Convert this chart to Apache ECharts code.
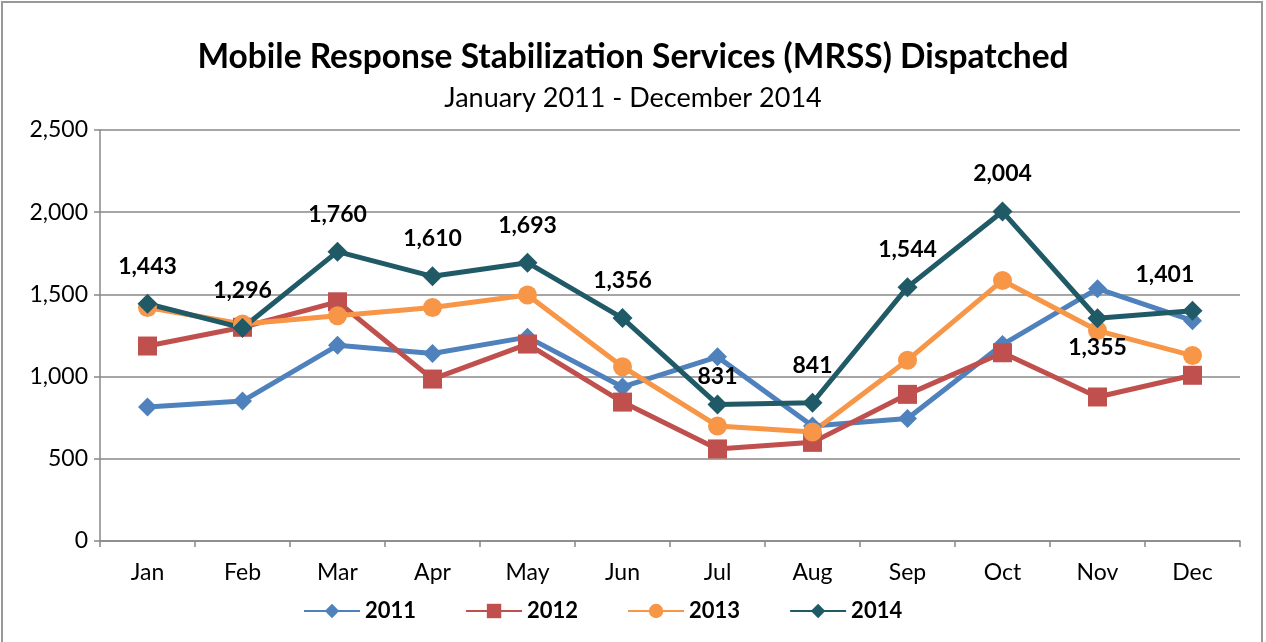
<!DOCTYPE html>
<html>
<head>
<meta charset="utf-8">
<script src="https://cdn.jsdelivr.net/npm/echarts@6/dist/echarts.min.js"></script>
<style>
  html, body { margin: 0; padding: 0; background: #fff; }
  #main { width: 1266px; height: 642px; }
</style>
</head>
<body>
<div id="main"></div>
<script>
var months = ['Jan', 'Feb', 'Mar', 'Apr', 'May', 'Jun', 'Jul', 'Aug', 'Sep', 'Oct', 'Nov', 'Dec'];
var y2011 = [815, 851, 1190, 1140, 1240, 937, 1120, 700, 745, 1195, 1535, 1340];
var y2012 = [1186, 1300, 1455, 985, 1198, 845, 560, 600, 892, 1145, 876, 1008];
var y2013 = [1420, 1320, 1370, 1420, 1496, 1060, 700, 663, 1100, 1585, 1280, 1128];
var y2014 = [1443, 1296, 1760, 1610, 1693, 1356, 831, 841, 1544, 2004, 1355, 1401];
var yTicks = [0, 500, 1000, 1500, 2000, 2500];

var myChart = echarts.init(document.getElementById('main'));
var font = 'Lato, "Open Sans", sans-serif';

function fmt(v) {
    return String(v).replace(/\B(?=(\d{3})+(?!\d))/g, ',');
}

function lineSeries(name, data, color, symbol, size) {
    return {
        name: name,
        type: 'line',
        data: data,
        symbol: symbol,
        symbolSize: size,
        lineStyle: { color: color, width: 5 },
        itemStyle: { color: color },
        animation: false
    };
}

var s2014 = lineSeries('2014', y2014, '#215A67', 'diamond', 20);
s2014.label = {
    show: true,
    position: 'top',
    distance: 16,
    fontFamily: font,
    fontWeight: 'bold',
    fontSize: 23,
    color: '#000',
    formatter: function (p) { return fmt(p.value); }
};
// Nov label sits below, Dec label up and left, Jul label closer to point
s2014.data = y2014.map(function (v, i) {
    if (i === 6) return { value: v, label: { distance: 6 } };
    if (i === 10) return { value: v, label: { position: 'bottom', distance: 8 } };
    if (i === 11) return { value: v, label: { position: [-47, -38] } };
    return v;
});

option = {
    backgroundColor: '#fff',
    textStyle: { fontFamily: font },
    title: {
        text: 'Mobile Response Stabilization Services (MRSS) Dispatched',
        subtext: 'January 2011 - December 2014',
        left: 'center',
        top: 35,
        itemGap: 11,
        textStyle: { fontFamily: font, fontWeight: 'bold', fontSize: 33.5, color: '#000' },
        subtextStyle: { fontFamily: font, fontSize: 27, color: '#000' }
    },
    legend: {
        bottom: 15,
        left: 298,
        itemWidth: 56,
        itemHeight: 18,
        itemGap: 49,
        textStyle: { fontFamily: font, fontWeight: 'bold', fontSize: 22, color: '#000' },
        data: ['2011', '2012', '2013', '2014']
    },
    grid: { left: 100, right: 26, top: 130, bottom: 101 },
    xAxis: {
        type: 'category',
        data: months,
        boundaryGap: true,
        axisLine: { lineStyle: { color: '#888', width: 1.5 } },
        axisTick: { show: true, length: 6, lineStyle: { color: '#888', width: 1.5 } },
        axisLabel: { color: '#000', fontSize: 23, fontFamily: font, margin: 20 }
    },
    yAxis: {
        type: 'value',
        min: yTicks[0],
        max: yTicks[yTicks.length - 1],
        interval: 500,
        axisLine: { show: true, lineStyle: { color: '#888', width: 1.5 } },
        axisTick: { show: true, length: 6, lineStyle: { color: '#888', width: 1.5 } },
        splitLine: { lineStyle: { color: '#888', width: 1.5 } },
        axisLabel: { color: '#000', fontSize: 23, fontFamily: font, margin: 12, formatter: fmt }
    },
    graphic: [{
        type: 'rect',
        shape: { x: 2, y: 2, width: 1260, height: 660 },
        style: { fill: null, stroke: '#999', lineWidth: 2 },
        silent: true
    }],
    series: [
        lineSeries('2011', y2011, '#4F81BD', 'diamond', 19),
        lineSeries('2012', y2012, '#C0504D', 'rect', 19),
        lineSeries('2013', y2013, '#F79646', 'circle', 19),
        s2014
    ]
};

myChart.setOption(option);
</script>
</body>
</html>
